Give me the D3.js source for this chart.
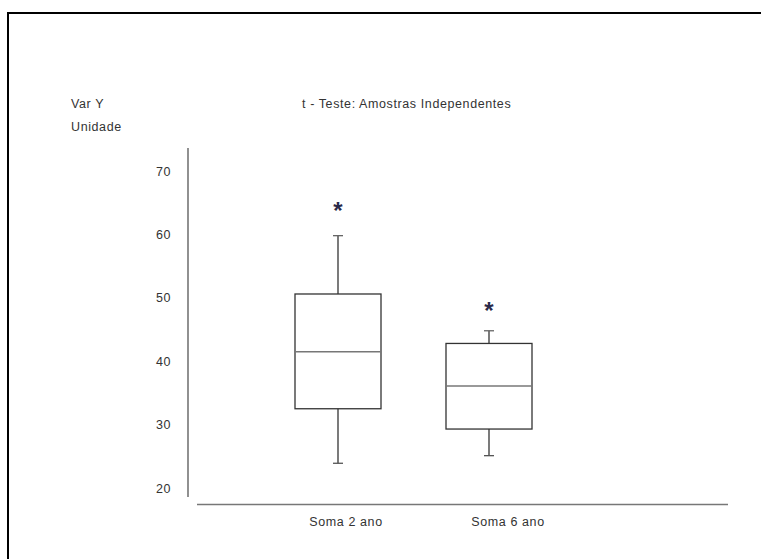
<!DOCTYPE html>
<html><head><meta charset="utf-8">
<script src="https://cdn.jsdelivr.net/npm/d3@7"></script>
<style>body{margin:0;background:#fff}svg{display:block}text{font-family:"Liberation Sans",Arial,sans-serif;letter-spacing:0.6px}</style>
</head><body>
<svg id="c" width="761" height="559"></svg>
<script>
const categories = ["Soma 2 ano", "Soma 6 ano"];
const whiskerLow = [23.9, 25.1];
const q1 = [32.5, 29.3];
const median = [41.5, 36.1];
const q3 = [50.6, 42.8];
const whiskerHigh = [59.8, 44.8];
const outliers = [64.2, 48.4];
const yTicks = [20, 30, 40, 50, 60, 70];
const title = "t - Teste: Amostras Independentes";
const yTitle1 = "Var Y", yTitle2 = "Unidade";

const FS = 12.5;
const svg = d3.select("#c");
// frame
svg.append("path").attr("d","M8,560 V13 H762").attr("fill","none").attr("stroke","#000").attr("stroke-width",2);

const y = d3.scaleLinear().domain([20,70]).range([488,171]);
const x = d3.scalePoint().domain(categories).range([338,489]);
const xl = d3.scalePoint().domain(categories).range([346,508]);
const boxW = 86, capW = 10;

// axes lines
svg.append("line").attr("x1",188).attr("x2",188).attr("y1",148).attr("y2",497).attr("stroke","#555").attr("stroke-width",1.3);
svg.append("line").attr("x1",197).attr("x2",728).attr("y1",504.5).attr("y2",504.5).attr("stroke","#777").attr("stroke-width",1.5);

const yAxis = d3.axisLeft(y).tickValues(yTicks).tickSize(0).tickPadding(0);
const ga = svg.append("g").attr("transform","translate(171,0)").call(yAxis);
ga.select(".domain").remove();
ga.selectAll("text").attr("font-size",FS).attr("fill","#333").attr("font-family",'"Liberation Sans",Arial,sans-serif');

// texts
svg.append("text").attr("x",71).attr("y",108).attr("font-size",FS).attr("fill","#333").text(yTitle1);
svg.append("text").attr("x",71).attr("y",131).attr("font-size",FS).attr("fill","#333").text(yTitle2);
svg.append("text").attr("x",302).attr("y",108).attr("font-size",FS).attr("fill","#333").text(title);

categories.forEach((c,i)=>{
  const cx = Math.round(x(c));
  const g = svg.append("g").attr("stroke","#333").attr("stroke-width",1.3).attr("fill","none");
  g.append("line").attr("x1",cx).attr("x2",cx).attr("y1",y(whiskerHigh[i])).attr("y2",y(q3[i]));
  g.append("line").attr("x1",cx).attr("x2",cx).attr("y1",y(q1[i])).attr("y2",y(whiskerLow[i]));
  g.append("line").attr("x1",cx-capW/2).attr("x2",cx+capW/2).attr("y1",y(whiskerHigh[i])).attr("y2",y(whiskerHigh[i])).attr("stroke","#666");
  g.append("line").attr("x1",cx-capW/2).attr("x2",cx+capW/2).attr("y1",y(whiskerLow[i])).attr("y2",y(whiskerLow[i])).attr("stroke","#555");
  g.append("rect").attr("x",cx-boxW/2).attr("y",y(q3[i])).attr("width",boxW).attr("height",y(q1[i])-y(q3[i]));
  g.append("line").attr("x1",cx-boxW/2).attr("x2",cx+boxW/2).attr("y1",y(median[i])).attr("y2",y(median[i])).attr("stroke","#777").attr("stroke-width",1.6);
  svg.append("text").attr("x",cx).attr("y",y(outliers[i])+11).attr("text-anchor","middle").attr("font-size",24).attr("font-weight","bold").attr("fill","#2a2a4a").style("letter-spacing","0").text("*");
  svg.append("text").attr("x",xl(c)).attr("y",526).attr("text-anchor","middle").attr("font-size",FS).attr("fill","#333").text(c);
});
</script>
</body></html>
